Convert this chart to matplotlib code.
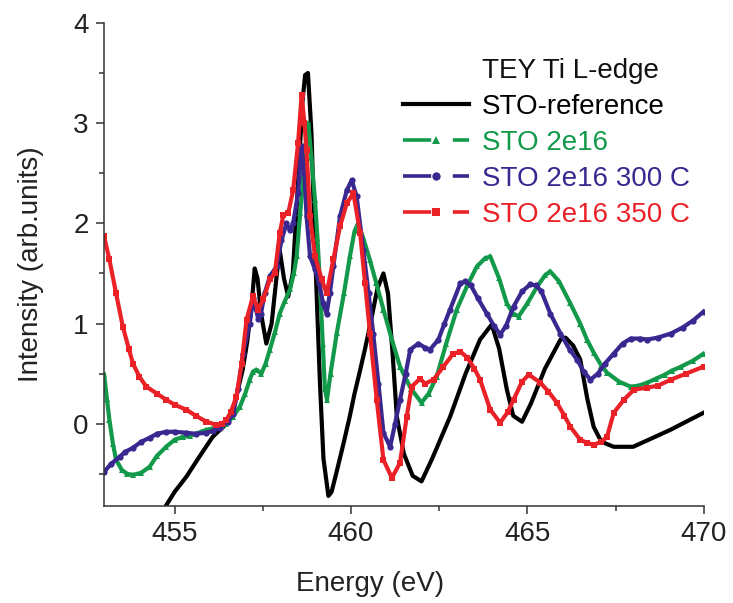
import matplotlib
matplotlib.use("Agg")
import matplotlib.pyplot as plt
from matplotlib.lines import Line2D
from matplotlib.ticker import MultipleLocator

plt.rcParams['font.family'] = ['Liberation Sans', 'DejaVu Sans']

# STO-reference (black)
ref_e = [454.65, 454.75, 455.0, 455.33, 455.7, 456.08, 456.47, 456.7, 456.93, 457.05, 457.18, 457.27,
         457.35, 457.45, 457.6, 457.75, 457.9, 457.98, 458.1, 458.22, 458.35, 458.5, 458.62, 458.7,
         458.78, 458.88, 458.98, 459.12, 459.22, 459.36, 459.45, 459.6, 459.8, 459.97, 460.1, 460.25,
         460.4, 460.54, 460.75, 460.92, 461.05, 461.18, 461.3, 461.5, 461.75, 462.0, 462.3, 462.81,
         463.25, 463.66, 463.99, 464.2, 464.42, 464.6, 464.85, 465.1, 465.5, 465.94, 466.08, 466.3,
         466.5, 466.7, 466.88, 467.1, 467.45, 468.0, 468.5, 469.06, 469.5, 470.0]
ref_i = [-0.95, -0.82, -0.68, -0.53, -0.33, -0.13, 0.0, 0.2, 0.54, 0.8, 1.17, 1.55,
         1.45, 1.1, 0.8, 1.0, 1.5, 1.73, 1.45, 1.27, 1.5, 2.4, 3.2, 3.48,
         3.5, 2.9, 1.73, 0.41, -0.35, -0.72, -0.68, -0.47, -0.18, 0.08, 0.3, 0.52,
         0.75, 0.98, 1.35, 1.5, 1.3, 0.7, 0.07, -0.3, -0.52, -0.575, -0.35, 0.07,
         0.5, 0.84, 0.99, 0.75, 0.34, 0.08, 0.02, 0.2, 0.55, 0.84, 0.86, 0.78,
         0.64, 0.25, -0.03, -0.18, -0.23, -0.23, -0.15, -0.06, 0.02, 0.11]

# STO 2e16 (green)
g_e = [453.0, 453.08, 453.15, 453.25, 453.34, 453.5, 453.65, 453.82, 454.05, 454.29, 454.5, 454.76,
       455.0, 455.24, 455.45, 455.6, 455.75, 455.9, 456.05, 456.2, 456.35, 456.47, 456.65, 456.85,
       457.0, 457.13, 457.22, 457.32, 457.46, 457.58, 457.7, 457.85, 457.98, 458.12, 458.27, 458.38,
       458.46, 458.56, 458.65, 458.72, 458.79, 458.88, 458.98, 459.05, 459.12, 459.2, 459.26, 459.32,
       459.42, 459.6, 459.8, 459.97, 460.1, 460.2, 460.35, 460.54, 460.72, 460.92, 461.15, 461.39,
       461.7, 462.0, 462.2, 462.43, 462.7, 463.0, 463.3, 463.57, 463.8, 463.95, 464.2, 464.42,
       464.6, 464.75, 465.0, 465.28, 465.5, 465.65, 465.9, 466.22, 466.5, 466.69, 466.88, 467.1,
       467.26, 467.6, 467.93, 468.15, 468.4, 468.65, 468.9, 469.1, 469.36, 469.7, 470.0]
g_i = [0.49, 0.25, 0.04, -0.2, -0.36, -0.46, -0.5, -0.51, -0.49, -0.43, -0.32, -0.23,
       -0.16, -0.13, -0.12, -0.1, -0.08, -0.06, -0.05, -0.03, -0.02, 0.0, 0.07, 0.17,
       0.3, 0.44, 0.52, 0.54, 0.5, 0.6, 0.74, 0.92, 1.1, 1.22, 1.34, 1.5,
       1.67, 2.1, 2.47, 2.8, 3.0, 2.65, 2.23, 1.85, 1.4, 0.8, 0.35, 0.24,
       0.5, 0.91, 1.3, 1.67, 1.92, 2.0, 1.85, 1.63, 1.4, 1.14, 0.85, 0.57,
       0.35, 0.21, 0.3, 0.47, 0.8, 1.14, 1.38, 1.57, 1.65, 1.67, 1.45, 1.2,
       1.1, 1.07, 1.2, 1.37, 1.48, 1.52, 1.42, 1.2, 1.0, 0.84, 0.71, 0.58,
       0.51, 0.42, 0.37, 0.38, 0.41, 0.45, 0.49, 0.53, 0.57, 0.63, 0.7]

# STO 2e16 300 C (purple)
p_e = [453.0, 453.2, 453.44, 453.6, 453.82, 454.05, 454.29, 454.5, 454.76, 455.0, 455.33, 455.6,
       455.9, 456.1, 456.28, 456.5, 456.66, 456.8, 456.94, 457.13, 457.22, 457.3, 457.37, 457.45,
       457.55, 457.7, 457.89, 458.03, 458.17, 458.27, 458.36, 458.5, 458.6, 458.68, 458.74, 458.84,
       458.98, 459.1, 459.21, 459.31, 459.4, 459.5, 459.69, 459.88, 460.02, 460.16, 460.35, 460.5,
       460.63, 460.78, 460.92, 461.11, 461.25, 461.39, 461.55, 461.68, 461.91, 462.1, 462.24, 462.48,
       462.65, 462.81, 463.1, 463.24, 463.4, 463.6, 463.85, 464.05, 464.23, 464.4, 464.61, 464.85,
       465.08, 465.25, 465.4, 465.65, 465.94, 466.2, 466.41, 466.6, 466.79, 467.0, 467.2, 467.45,
       467.7, 467.93, 468.2, 468.4, 468.7, 469.07, 469.4, 469.7, 470.0]
p_i = [-0.48, -0.4, -0.33, -0.28, -0.24, -0.18, -0.14, -0.1, -0.08, -0.08, -0.09, -0.1,
       -0.09, -0.07, -0.04, 0.02, 0.1, 0.35, 0.7, 1.0, 1.25, 1.15, 1.05, 1.1,
       1.3, 1.47, 1.57, 1.83, 2.0, 1.93, 2.0, 2.3, 2.77, 2.5, 2.07, 1.67,
       1.54, 1.4, 1.2, 1.1, 1.3, 1.57, 2.07, 2.33, 2.43, 2.27, 1.73, 1.3,
       0.9, 0.4, -0.09, -0.23, 0.0, 0.24, 0.5, 0.74, 0.8, 0.76, 0.74, 0.84,
       1.0, 1.14, 1.4, 1.42, 1.38, 1.25, 1.1, 0.98, 0.89, 0.98, 1.17, 1.32,
       1.39, 1.38, 1.32, 1.1, 0.9, 0.74, 0.64, 0.52, 0.44, 0.5, 0.6, 0.7,
       0.8, 0.85, 0.85, 0.84, 0.86, 0.9, 0.96, 1.03, 1.12]

# STO 2e16 350 C (red)
r_e = [453.0, 453.15, 453.34, 453.53, 453.7, 453.82, 454.0, 454.2, 454.5, 454.76, 455.0, 455.33,
       455.6, 455.9, 456.18, 456.35, 456.47, 456.6, 456.75, 456.9, 457.04, 457.22, 457.37, 457.51,
       457.7, 457.84, 457.98, 458.08, 458.22, 458.36, 458.5, 458.6, 458.68, 458.74, 458.84, 458.98,
       459.17, 459.31, 459.5, 459.69, 459.88, 460.07, 460.26, 460.4, 460.54, 460.73, 460.92, 461.16,
       461.39, 461.58, 461.72, 461.96, 462.1, 462.34, 462.62, 462.9, 463.1, 463.3, 463.5, 463.66,
       463.95, 464.23, 464.45, 464.61, 464.85, 465.04, 465.37, 465.6, 465.84, 466.05, 466.22, 466.5,
       466.69, 466.88, 467.1, 467.26, 467.45, 467.74, 468.02, 468.4, 468.7, 469.07, 469.5, 470.0]
r_i = [1.87, 1.64, 1.3, 0.97, 0.75, 0.6, 0.47, 0.37, 0.3, 0.24, 0.19, 0.14,
       0.08, 0.02, -0.01, 0.0, 0.04, 0.12, 0.27, 0.6, 1.04, 1.27, 1.14, 1.24,
       1.44, 1.5, 1.9, 2.08, 2.1, 2.33, 2.8, 3.28, 3.0, 2.73, 2.07, 1.67,
       1.44, 1.3, 1.64, 1.97, 2.2, 2.3, 1.9, 1.4, 0.9, 0.24, -0.36, -0.54,
       -0.39, 0.07, 0.37, 0.45, 0.4, 0.44, 0.57, 0.7, 0.72, 0.66, 0.55, 0.44,
       0.14, 0.01, 0.12, 0.24, 0.42, 0.49, 0.41, 0.32, 0.21, 0.08, -0.03, -0.16,
       -0.19, -0.21, -0.18, -0.13, 0.11, 0.24, 0.34, 0.36, 0.38, 0.44, 0.5, 0.57]

labels = ['STO-reference', 'STO 2e16', 'STO 2e16 300 C', 'STO 2e16 350 C']
colors = ['#000000', '#13994a', '#3a2790', '#ea2228']
markers = [None, '^', 'o', 's']

fig = plt.figure(figsize=(7.33, 6.03), dpi=100)
ax = fig.add_axes([0.142, 0.161, 0.818, 0.801])

ax.plot(ref_e, ref_i, color=colors[0], lw=3.0, solid_joinstyle='round')
ax.plot(g_e, g_i, color=colors[1], lw=3.0, marker='^', ms=5, mew=0)
ax.plot(p_e, p_i, color=colors[2], lw=3.0, marker='o', ms=4.5, mew=0)
ax.plot(r_e, r_i, color=colors[3], lw=3.0, marker='s', ms=4.2, mew=0)

ax.set_xlim(453, 470)
ax.set_ylim(-0.82, 4)
ax.xaxis.set_minor_locator(MultipleLocator(2.5))
ax.yaxis.set_major_locator(MultipleLocator(1))
ax.yaxis.set_minor_locator(MultipleLocator(0.5))
ax.set_xticks([455, 460, 465, 470])

for s in ['top', 'right']:
    ax.spines[s].set_visible(False)
for s in ['left', 'bottom']:
    ax.spines[s].set_linewidth(1.1)
    ax.spines[s].set_color('#333333')

ax.tick_params(which='major', direction='out', length=6, width=1.1, color='#333333',
               labelsize=20, pad=5, labelcolor='#222222')
ax.tick_params(which='minor', direction='out', length=3.5, width=1.1, color='#333333')

ax.set_xlabel('Energy (eV)', fontsize=20, color='#222222')
ax.set_ylabel('Intensity (arb.units)', fontsize=20, color='#222222')
ax.xaxis.set_label_coords(0.443, -0.135)
ax.yaxis.set_label_coords(-0.1, 0.5)

# legend: title row as an entry with no handle
handles = [Line2D([], [], linestyle='none')]
handles.append(Line2D([], [], color=colors[0], lw=3.0))
for c, m in zip(colors[1:], markers[1:]):
    handles.append(Line2D([], [], color=c, lw=2.6, linestyle=(0, (7.8, 6.0)),
                          marker=m, ms=6, mew=0))
leg = ax.legend(handles, ['TEY Ti L-edge'] + labels, loc='upper left',
                bbox_to_anchor=(0.498, 0.928), frameon=False, fontsize=20,
                handlelength=2.4, handletextpad=0.46, labelspacing=0.36,
                borderpad=0, borderaxespad=0, numpoints=1,
                labelcolor=['#111111'] + colors)

fig.savefig('out.png', dpi=100)
